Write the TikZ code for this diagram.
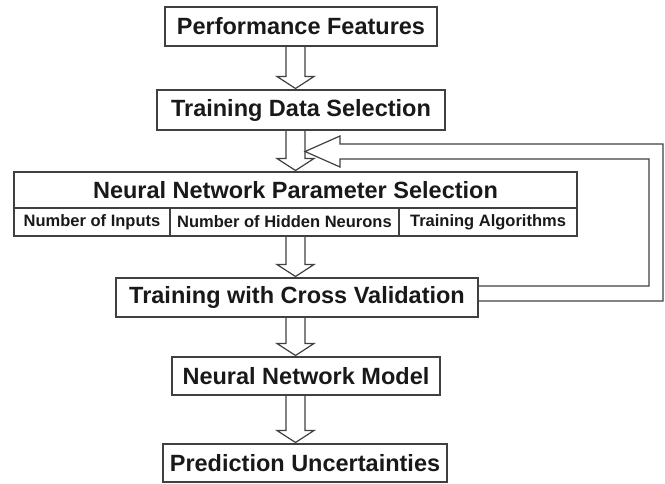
\documentclass[tikz,border=0pt]{standalone}
\usepackage{fontspec}
\setmainfont{Liberation Sans}
\usetikzlibrary{positioning,calc}

\tikzset{
  box/.style={draw=black!75, line width=1.2pt, inner sep=0pt, outer sep=0pt,
    text=black!90, font=\bfseries\fontsize{23.5}{28}\selectfont},
  cell/.style={box, minimum height=28pt, font=\bfseries\fontsize{16.5}{20}\selectfont},
  arrowline/.style={draw=black!75, line width=1.2pt, line join=miter}
}
% block arrow from the bottom of #1 to the top of #2
\newcommand{\flowarrow}[2]{%
  \draw[arrowline] let \p1=(#1.south -| axis), \p2=(#2.north -| axis) in
    (\x1-9.5pt,\y1) -- (\x1-9.5pt,\y2+13.5pt) -- (\x1-18.5pt,\y2+13.5pt) -- (\x1,\y2+1.5pt)
    -- (\x1+18.5pt,\y2+13.5pt) -- (\x1+9.5pt,\y2+13.5pt) -- (\x1+9.5pt,\y1);}

\begin{document}
\begin{tikzpicture}[x=1pt,y=-1pt]
\useasboundingbox (0,0) rectangle (665,483);
\coordinate (axis) at (295.5,0);

\node[box, minimum width=272pt, minimum height=39pt] (b1) at (301,26.5) {Performance Features};
\node[box, minimum width=288pt, minimum height=40pt] (b2) at (301,110) {Training Data Selection};
\node[box, minimum width=563pt, minimum height=36pt] (b3) at (295.5,190) {Neural Network Parameter Selection};
\node[cell, minimum width=156pt, below right=0pt of b3.south west] (c1) {Number of Inputs};
\node[cell, minimum width=229pt, right=0pt of c1] (c2) {Number of Hidden Neurons};
\node[cell, minimum width=178pt, right=0pt of c2] (c3) {Training Algorithms};
\node[box, minimum width=362pt, minimum height=39pt] (b4) at (297,297.5) {Training with Cross Validation};
\node[box, minimum width=268pt, minimum height=38pt] (b5) at (306,376) {Neural Network Model};
\node[box, minimum width=284pt, minimum height=38pt] (b6) at (305,463) {Prediction Uncertainties};

\flowarrow{b1}{b2}
\flowarrow{b2}{b3}
\flowarrow{c2}{b4}
\flowarrow{b4}{b5}
\flowarrow{b5}{b6}

% feedback loop
\draw[arrowline] ([yshift=11.5pt]b4.east) -| (649,159) -- (340,159) -- (340,167)
  -- (305,151.5) -- (340,136) -- (340,144) -- (663,144) |- ([yshift=-3.5pt]b4.east);
\end{tikzpicture}
\end{document}
